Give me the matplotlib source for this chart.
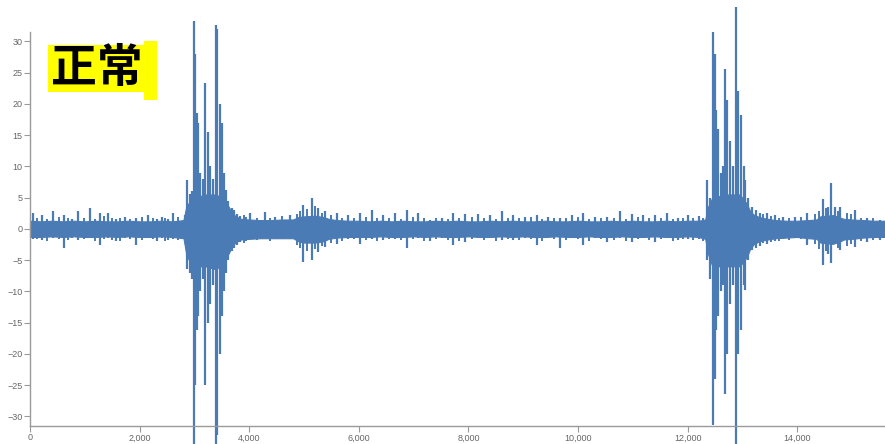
import matplotlib
matplotlib.use("Agg")
import matplotlib.pyplot as plt
from matplotlib.patches import Rectangle
from matplotlib.ticker import FuncFormatter

# ---- data ----
# core band envelope of the signal
env_x = [0, 200, 400, 600, 800, 1000, 1200, 1400, 1600, 1800, 2000, 2200, 2400, 2600,
         2800, 2850, 2900, 3000, 3200, 3400, 3550, 3620, 3700, 3760, 3850, 4000, 4200, 4400, 4600,
         4800, 4900, 5000, 5200, 5350, 5450, 5600, 5800, 6000, 6200, 6400, 6600, 6800, 7000, 7200,
         7400, 7600, 7800, 8000, 8200, 8400, 8600, 8800, 9000, 9200, 9400, 9600, 9800,
         10000, 10200, 10400, 10600, 10800, 11000, 11200, 11400, 11600, 11800, 12000,
         12200, 12320, 12370, 12450, 12700, 12950, 13080, 13130, 13200, 13300, 13400, 13600, 13800,
         14000, 14200, 14350, 14420, 14650, 14780, 14850, 15000, 15200, 15400, 15600]
env_hi = [1.3, 1.2, 1.3, 1.2, 1.3, 1.2, 1.3, 1.2, 1.2, 1.3, 1.2, 1.2, 1.3, 1.2,
          1.4, 3.5, 4.2, 5.0, 5.5, 5.5, 4.5, 3.6, 2.4, 2.0, 1.6, 1.5, 1.4, 1.4, 1.5,
          1.5, 1.9, 2.0, 2.1, 1.9, 1.6, 1.4, 1.3, 1.3, 1.2, 1.3, 1.2, 1.3, 1.2, 1.2,
          1.3, 1.2, 1.3, 1.2, 1.2, 1.3, 1.2, 1.3, 1.2, 1.2, 1.3, 1.2, 1.2,
          1.3, 1.2, 1.2, 1.3, 1.2, 1.3, 1.2, 1.2, 1.3, 1.2, 1.3,
          1.3, 1.5, 3.5, 5.0, 5.5, 5.5, 4.0, 3.0, 2.3, 1.9, 1.7, 1.4, 1.3,
          1.3, 1.4, 1.5, 2.0, 2.2, 1.8, 1.6, 1.5, 1.4, 1.3, 1.3]
env_lo = [-1.3, -1.3, -1.2, -1.3, -1.2, -1.3, -1.3, -1.2, -1.3, -1.2, -1.3, -1.3, -1.2, -1.3,
          -1.5, -4.0, -5.0, -6.0, -6.0, -6.5, -5.0, -4.0, -2.6, -2.1, -1.7, -1.6, -1.5, -1.5, -1.5,
          -1.5, -2.0, -2.2, -2.2, -2.0, -1.6, -1.4, -1.3, -1.3, -1.3, -1.2, -1.3, -1.3, -1.2, -1.3,
          -1.2, -1.3, -1.3, -1.2, -1.3, -1.3, -1.2, -1.3, -1.2, -1.3, -1.3, -1.2, -1.3,
          -1.3, -1.2, -1.3, -1.3, -1.2, -1.3, -1.3, -1.2, -1.3, -1.3, -1.2,
          -1.3, -1.6, -4.0, -6.0, -6.0, -6.0, -4.5, -3.4, -2.5, -2.0, -1.8, -1.5, -1.4,
          -1.3, -1.5, -1.6, -2.2, -2.4, -2.0, -1.7, -1.6, -1.4, -1.3, -1.3]

# main spikes: position, top value, bottom value
spk_x = [60, 210, 420, 620, 760, 880, 1090, 1275, 1430, 1570, 1730, 1930, 2150, 2320, 2400,
         2520, 2610, 2820,
         2860, 2920, 2960, 2993, 3005, 3040, 3070, 3110, 3150, 3195, 3240, 3280, 3330, 3390,
         3420, 3460, 3500, 3540, 3570, 3620, 3680, 3730, 3780,
         3830, 4015, 4290, 4470, 4745, 4988, 5140, 5262, 5384, 5597, 5810, 6023, 6236, 6449,
         6661, 6874, 7087, 7300, 7513, 7726, 7939, 8182, 8395, 8608, 8821, 9034, 9247, 9459,
         9673, 9886, 10098, 10311, 10524, 10768, 10981, 11193, 11406, 11619, 11832, 12014,
         12200,
         12350, 12400, 12460, 12490, 12515, 12560, 12600, 12640, 12680, 12725, 12770, 12820,
         12880, 12920, 12975, 13020, 13050, 13100, 13170, 13250, 13320,
         13450, 13600, 13742, 13961, 14174, 14466, 14560, 14613, 14691, 14783, 15056, 15270,
         15512]
spk_hi = [2.5, 2.2, 2.9, 2.2, 1.5, 2.8, 3.3, 2.5, 2.5, 1.6, 1.9, 1.7, 2.2, 1.5, 1.9,
          1.5, 2.5, 2.2,
          7.8, 5.5, 6.0, 33.2, 28.0, 18.5, 17.0, 9.0, 8.0, 23.3, 15.5, 10.0, 8.0, 32.7,
          32.0, 20.0, 16.9, 9.0, 6.2, 4.5, 3.4, 3.0, 2.4,
          2.0, 2.5, 2.7, 1.9, 2.2, 3.8, 4.9, 3.3, 2.9, 2.6, 2.2, 2.5, 3.0, 2.2,
          2.6, 3.0, 2.6, 1.4, 1.7, 2.6, 2.4, 2.3, 2.2, 2.9, 2.2, 1.9, 2.2, 1.9,
          1.7, 2.2, 2.6, 1.9, 1.9, 2.9, 2.4, 2.2, 2.2, 2.6, 1.7, 2.2,
          2.0,
          7.8, 5.0, 31.5, 28.0, 19.0, 16.0, 9.0, 10.0, 25.6, 20.6, 14.0, 10.0,
          35.5, 22.0, 18.2, 10.0, 7.8, 5.0, 3.5, 3.0, 2.6,
          2.5, 2.2, 1.9, 1.9, 2.5, 4.7, 3.5, 7.3, 3.5, 3.5, 3.0, 1.7,
          1.4]
spk_lo = [-1.6, -1.8, -1.5, -3.1, -1.5, -1.8, -1.5, -2.6, -1.5, -2.0, -1.5, -2.6, -1.5, -1.9, -1.5,
          -1.8, -1.7, -1.5,
          -6.5, -7.0, -8.0, -34.4, -25.0, -16.2, -14.0, -10.0, -8.0, -25.0, -15.0, -12.0, -9.0, -34.4,
          -33.0, -20.0, -14.0, -10.0, -7.0, -5.0, -3.6, -3.0, -2.6,
          -2.1, -1.7, -1.5, -1.6, -1.6, -5.3, -5.0, -3.7, -2.9, -2.4, -1.6, -2.5, -1.6, -1.8,
          -1.6, -3.0, -1.5, -1.9, -1.5, -2.6, -2.1, -1.5, -1.5, -1.8, -1.8, -1.5, -2.6, -1.5,
          -3.1, -1.5, -2.6, -1.5, -2.1, -1.5, -2.1, -1.5, -2.1, -1.5, -1.8, -1.6,
          -1.7,
          -5.0, -8.0, -31.4, -24.0, -16.2, -14.0, -10.0, -9.0, -26.5, -20.0, -12.0, -9.0,
          -34.4, -20.0, -16.2, -9.0, -9.8, -5.0, -3.4, -3.0, -2.8,
          -2.4, -2.0, -1.6, -1.5, -2.6, -5.8, -4.0, -5.5, -2.5, -3.4, -2.9, -2.1,
          -1.8]

# minor spikes between the main ones
min_x = [135, 315, 520, 700, 980, 1180, 1350, 1500, 1650, 1830, 2040, 2240, 2460, 2700,
         3900, 3950, 4150, 4380, 4600, 4870, 4930, 5060, 5200, 5320, 5490, 5700, 5920, 6130,
         6340, 6550, 6770, 6980, 7190, 7400, 7620, 7830, 8060, 8290, 8500, 8715, 8930, 9140,
         9350, 9565, 9780, 9990, 10200, 10420, 10650, 10875, 11090, 11300, 11510, 11725,
         11920, 12100, 12280, 13380, 13520, 13670, 13850, 14070, 14320, 14400, 14520, 14740,
         14900, 14980, 15160, 15390]
min_hi = [1.8, 1.6, 1.9, 1.7, 1.8, 1.6, 2.0, 1.7, 1.8, 1.6, 1.9, 1.7, 1.8, 1.9,
          2.2, 1.9, 1.8, 1.7, 2.0, 2.4, 2.8, 3.2, 3.6, 2.6, 2.2, 1.8, 1.7, 1.9,
          1.7, 1.8, 1.6, 1.9, 1.7, 1.8, 1.6, 1.8, 1.9, 1.7, 1.6, 1.8, 1.7, 1.9,
          1.6, 1.8, 1.7, 1.9, 1.6, 1.8, 1.7, 1.6, 1.9, 1.7, 1.8, 1.6,
          1.8, 1.7, 1.8, 2.4, 2.0, 1.8, 1.7, 1.9, 2.4, 2.9, 3.3, 2.9,
          2.6, 2.4, 1.8, 1.7]
min_lo = [-1.7, -1.9, -1.6, -1.8, -1.7, -2.0, -1.7, -1.8, -1.9, -1.7, -1.8, -1.6, -1.9, -1.8,
          -2.3, -2.0, -1.8, -1.9, -1.7, -2.6, -3.0, -3.6, -3.2, -2.8, -2.2, -1.9, -1.7, -1.8,
          -1.9, -1.7, -1.8, -1.6, -1.9, -1.7, -1.8, -1.9, -1.7, -1.8, -1.9, -1.7, -1.8, -1.6,
          -1.9, -1.7, -1.8, -1.7, -1.9, -1.6, -1.8, -1.9, -1.7, -1.8, -1.6, -1.9,
          -1.7, -1.8, -1.9, -2.3, -2.1, -1.9, -1.8, -1.7, -2.5, -3.2, -3.6, -3.0,
          -2.7, -2.5, -1.9, -1.8]

label_text = "正常"
x_ticks = [0, 2000, 4000, 6000, 8000, 10000, 12000, 14000]
y_ticks = [-30, -25, -20, -15, -10, -5, 0, 5, 10, 15, 20, 25, 30]

# ---- figure ----
W, H = 885, 444
fig = plt.figure(figsize=(W / 100, H / 100), dpi=100)
ax = fig.add_axes([30 / W, (H - 425.7) / H, 855 / W, (425.7 - 32) / H])

color = "#4a7bb4"
ax.fill_between(env_x, env_lo, env_hi, color=color, linewidth=0.8, edgecolor=color,
                clip_on=False)
ax.vlines(min_x, min_lo, min_hi, color=color, linewidth=1.4, clip_on=False)
ax.vlines(spk_x, spk_lo, spk_hi, color=color, linewidth=1.6, clip_on=False)

ax.set_xlim(0, 15600)
ax.set_ylim(-31.5, 31.5)
ax.set_xticks(x_ticks)
ax.set_yticks(y_ticks)
ax.xaxis.set_major_formatter(FuncFormatter(lambda v, p: f"{int(v):,}"))

for s in ("top", "right"):
    ax.spines[s].set_visible(False)
for s in ("left", "bottom"):
    ax.spines[s].set_color("#9a9a9a")
    ax.spines[s].set_linewidth(1.0)
ax.tick_params(axis="both", colors="#9a9a9a", labelcolor="#666666", length=4,
               width=0.8, labelsize=6.5, pad=1.5)
for lab in ax.get_xticklabels() + ax.get_yticklabels():
    lab.set_fontfamily("Liberation Sans")

# yellow label box
def fy(py):
    return 1 - py / H
fig.patches.append(Rectangle((48 / W, fy(92)), (148 - 48) / W, (92 - 45) / H,
                             transform=fig.transFigure, facecolor="#ffff00",
                             edgecolor="none", zorder=5))
fig.patches.append(Rectangle((144 / W, fy(100)), (157 - 144) / W, (100 - 41) / H,
                             transform=fig.transFigure, facecolor="#ffff00",
                             edgecolor="none", zorder=5))
fig.text(97 / W, fy(69), label_text, ha="center", va="center", fontsize=33,
         fontweight="bold", family=["Noto Sans CJK SC", "DejaVu Sans"], color="black",
         zorder=6)

fig.savefig("out.png", dpi=100)
